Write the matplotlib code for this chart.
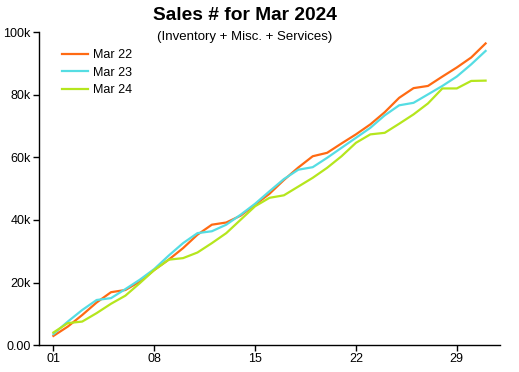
import matplotlib
matplotlib.use("Agg")
from matplotlib import pyplot as plt

plt.rcParams["font.family"] = ["Liberation Sans", "DejaVu Sans"]

days = list(range(1, 32))
day_ticks = [1, 8, 15, 22, 29]
day_tick_labels = ["01", "08", "15", "22", "29"]
value_ticks = [0, 20000, 40000, 60000, 80000, 100000]
value_tick_labels = ["0.00", "20k", "40k", "60k", "80k", "100k"]

mar22 = [2900, 5900, 9600, 13600, 16900, 17600, 20300, 24000, 27300, 31000,
         35300, 38500, 39200, 41400, 44900, 48400, 52800, 56800, 60400, 61500,
         64500, 67400, 70600, 74500, 79100, 82200, 82900, 85900, 88800, 92000,
         96500]
mar23 = [3500, 7500, 11200, 14400, 15000, 17900, 20900, 24300, 28600, 32600,
         35800, 36400, 38500, 41700, 45200, 49200, 53100, 56100, 56900, 59900,
         63100, 66300, 69500, 73500, 76700, 77500, 80200, 82900, 85900, 89800,
         94100]
mar24 = [4000, 7000, 7500, 10200, 13200, 15800, 19800, 24000, 27300, 27800,
         29600, 32600, 35800, 40100, 44400, 47100, 47900, 50700, 53500, 56700,
         60400, 64700, 67400, 67900, 70800, 73800, 77300, 82100, 82100, 84500,
         84600]

series = [("Mar 22", mar22, "#ff6a13"),
          ("Mar 23", mar23, "#55dde3"),
          ("Mar 24", mar24, "#b5e61d")]

fig = plt.figure(figsize=(5.19, 3.72), dpi=100)
ax = fig.add_axes([39 / 519, 27 / 372, 461 / 519, 312.5 / 372])

for name, vals, color in series:
    ax.plot(days, vals, color=color, linewidth=1.6, label=name)

ax.set_xlim(0, 32)
ax.set_ylim(0, 100000)
ax.set_xticks(day_ticks)
ax.set_xticklabels(day_tick_labels)
ax.set_yticks(value_ticks)
ax.set_yticklabels(value_tick_labels)
ax.tick_params(labelsize=9, length=4, width=1, colors="black", pad=2)
for side in ["top", "right"]:
    ax.spines[side].set_visible(False)
for side in ["left", "bottom"]:
    ax.spines[side].set_linewidth(1)

ax.legend(loc="upper left", bbox_to_anchor=(62 / 519, 1 - 49 / 372),
          bbox_transform=fig.transFigure, frameon=False, fontsize=9,
          borderpad=0, borderaxespad=0, handlelength=2.05,
          handletextpad=0.4, labelspacing=0.45)

fig.text(245 / 519, 1 - 16 / 372, "Sales # for Mar 2024", ha="center",
         va="center", fontsize=13.8, fontweight="bold")
fig.text(245 / 519, 1 - 37 / 372, "(Inventory + Misc. + Services)",
         ha="center", va="center", fontsize=9.5)

fig.savefig("out.png", dpi=100)
